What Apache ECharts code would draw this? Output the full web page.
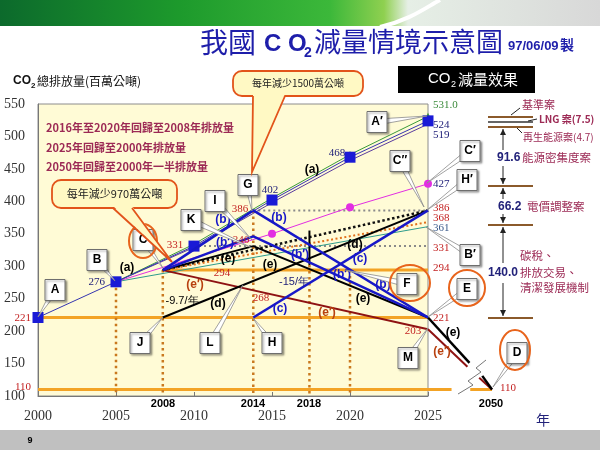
<!DOCTYPE html>
<html><head><meta charset="utf-8">
<script src="https://cdn.jsdelivr.net/npm/echarts@6.0.0/dist/echarts.min.js"></script>
<style>html,body{margin:0;padding:0;background:#fff}#c{width:600px;height:450px}</style>
</head><body><div id="c"></div>
<script>
// ---------------- data ----------------
const xTicks = [2000, 2005, 2010, 2015, 2020, 2025];
const yMin = 100, yMax = 550, yStep = 50;
const bauBlue   = [[2000,221],[2005,276],[2010,331],[2015,402],[2020,468],[2025,524]];
const bauGreen  = [[2005,276],[2010,334],[2015,405],[2020,472],[2025,531]];
const bauPurple = [[2005,276],[2010,329],[2015,398],[2020,463],[2025,519]];
const caseMagenta = [[2005,276],[2015,350],[2020,391],[2025,427]];
const caseTeal    = [[2005,276],[2025,361]];
const caseOrangeDot = [[2008,294],[2025,368]];
const caseBlackDot  = [[2008,294],[2025,386]];
const caseB  = [[2008,294],[2013.8,386],[2025,221]];
const caseB2 = [[2008,294],[2013.8,346],[2025,221]];
const caseC  = [[2013.8,221],[2025,386]];
const caseD  = [[2008,221],[2025,386]];
const caseE  = [[2008,294],[2013.8,331],[2025,221]];
const caseE2 = [[2008,294],[2025,203]];
const caseE_to2050a  = [[2025,221],[2041.2,151]];
const caseE_to2050b  = [[2046.2,131],[2050,110]];
const caseE2_to2050a = [[2025,203],[2040.4,145]];
const caseE2_to2050b = [[2045,128],[2050,110]];
const level294 = [[2008,294],[2025,294]];
const level221 = [[2000,221],[2025,221]];
const level110 = [[2000,110],[2025,110]];
const level110extA = [[2025,110],[2034.2,110]];
const level110extB = [[2041.5,110],[2050,110]];
const guide386 = [[2013.8,386],[2025,386]];
const guide331 = [[2010,331],[2025,331]];
const dropYears = [2005, 2008, 2013.8, 2017.4, 2020];
const dropTops  = [276, 294, 386, 302, 294];
const mark2018  = [[2017.4,355],[2017.4,302]];

// ---------------- styles ----------------
const ORANGE = '#f3a325', DROP = '#c9791f', BLUE = '#1818c8', DRED = '#8e1212';
const RED = '#c21f1f', NAVY = '#22227a', MAROON = '#9c2a55';
const CJK = '"Noto Sans CJK TC"';

function L(data, color, width, o) {
  o = o || {};
  const g = o.g || 0;
  return {
    type: 'line', data: data, xAxisIndex: g, yAxisIndex: g,
    symbol: o.symbol || 'none', symbolSize: o.size || 0, showSymbol: !!o.symbol,
    lineStyle: { color: color, width: width, type: o.type || 'solid' },
    itemStyle: { color: o.mcolor || color, borderWidth: 0 },
    z: o.z || 3, silent: true, clip: false, animation: false
  };
}
function withSym(data, skipFirst) {
  return data.map((d, i) => (skipFirst && i === 0) ? { value: d, symbol: 'none' } : d);
}

const series = [
  L(level294, ORANGE, 3, {z: 2}),
  L(level221, ORANGE, 3, {z: 2}),
  L(level110, ORANGE, 3, {z: 2}),
  L(level110extA, ORANGE, 3, {g: 1, z: 2}),
  L(level110extB, ORANGE, 3, {g: 1, z: 2}),
];
dropYears.forEach((yr, i) => series.push(L([[yr, dropTops[i]], [yr, yMin]], DROP, 2.5, {type: [2.5, 3.5], z: 2})));
series.push(
  L(guide386, '#8a8a8a', 2, {type: [2, 3], z: 2}),
  L(guide331, '#8a8a8a', 2, {type: [2, 3], z: 2}),
  L(caseBlackDot, '#111', 2.5, {type: [2.5, 2.5], z: 3}),
  L(caseOrangeDot, '#e0701c', 2, {type: [2, 2.5], z: 3}),
  L(caseTeal, '#2e9c8c', 1, {z: 3}),
  L(withSym(caseMagenta, true), '#e22ee2', 1, {symbol: 'circle', size: 8, z: 4}),
  L(bauPurple, '#5a3c9e', 1, {z: 4}),
  L(withSym(bauGreen, true), '#3b9a3b', 1, {symbol: 'triangle', size: 7, z: 4}),
  L(bauBlue, '#3535b0', 1, {symbol: 'rect', size: 11, mcolor: '#1a1ad6', z: 5}),
  L(mark2018, '#000', 2, {z: 5}),
  L(caseE2, DRED, 2, {z: 5}),
  L(caseE2_to2050a, DRED, 2, {g: 1, z: 5}),
  L(caseE2_to2050b, DRED, 2, {g: 1, z: 5}),
  L(caseD, '#000', 2, {z: 6}),
  L(caseE, '#000', 2, {z: 6}),
  L(caseE_to2050a, '#000', 2.5, {g: 1, z: 6}),
  L(caseE_to2050b, '#000', 2.5, {g: 1, z: 6}),
  L(caseB, BLUE, 2.5, {z: 7}),
  L(caseB2, BLUE, 2.5, {z: 7}),
  L(caseC, BLUE, 2.5, {z: 7})
);

// ---------------- graphic helpers ----------------
function T(x, y, text, font, fill, align, extra) {
  const el = { type: 'text', x: x, y: y, z: 100, silent: true,
    style: Object.assign({ text: text, font: font, fill: fill,
      align: align || 'left', textAlign: align || 'left',
      verticalAlign: 'middle', textVerticalAlign: 'middle' }, extra || {}) };
  return el;
}
function box(txt, cx, cy, tx, ty) {
  const dx = tx - cx, dy = ty - cy, len = Math.hypot(dx, dy);
  const px = -dy / len * 3, py = dx / len * 3;
  const w = 20, h = 21;
  return [
    { type: 'polygon', z: 110, silent: true, shape: { points: [[cx + px, cy + py], [cx - px, cy - py], [tx, ty]] },
      style: { fill: '#fff', stroke: '#8a8a8a', lineWidth: 0.8 } },
    { type: 'rect', z: 111, silent: true, shape: { x: cx - w / 2, y: cy - h / 2, width: w, height: h },
      style: { fill: '#fff', stroke: '#6e6e6e', lineWidth: 1, shadowBlur: 2, shadowOffsetX: 1.5, shadowOffsetY: 1.5, shadowColor: 'rgba(0,0,0,0.35)' } },
    Object.assign(T(cx, cy, txt, 'bold 12px "Liberation Sans"', '#000', 'center'), { z: 112 })
  ];
}
function ell(cx, cy, rx, ry) {
  return { type: 'ellipse', z: 115, silent: true, shape: { cx: cx, cy: cy, rx: rx, ry: ry },
    style: { fill: 'none', stroke: '#e8641c', lineWidth: 2 } };
}
function callout(x, y, w, h, bx1, bx2, tx, ty, text, font) {
  const fill = '#fff9c4', stroke = '#e2541a';
  return [
    { type: 'rect', z: 120, silent: true, shape: { x: x, y: y, width: w, height: h, r: 9 }, style: { fill: fill, stroke: stroke, lineWidth: 1.8 } },
    { type: 'polygon', z: 121, silent: true, shape: { points: [[bx1, y + h - 2], [bx2, y + h - 2], [tx, ty]] }, style: { fill: fill } },
    { type: 'polyline', z: 122, silent: true, shape: { points: [[bx1, y + h], [tx, ty], [bx2, y + h]] }, style: { fill: null, stroke: stroke, lineWidth: 1.8 } },
    Object.assign(T(x + w / 2, y + h / 2, text, font, '#222', 'center'), { z: 123 })
  ];
}
function ln(x1, y1, x2, y2, color, w) {
  return { type: 'line', z: 100, silent: true, shape: { x1: x1, y1: y1, x2: x2, y2: y2 }, style: { stroke: color, lineWidth: w || 1 } };
}
function arrowHead(x, y, dir, color) { // dir: 1 = pointing down, -1 = pointing up
  return { type: 'polygon', z: 101, silent: true, shape: { points: [[x - 3, y - 6 * dir], [x + 3, y - 6 * dir], [x, y]] }, style: { fill: color || '#222' } };
}

const G = [];
// banner + footer
G.push({ type: 'rect', z: 1, silent: true, shape: { x: 0, y: 0, width: 600, height: 26 },
  style: { fill: new echarts.graphic.LinearGradient(0, 0, 1, 0, [
    { offset: 0, color: '#0c6a2c' }, { offset: 0.3, color: '#1d9a2c' }, { offset: 0.55, color: '#3cb83a' },
    { offset: 0.64, color: '#8fd050' }, { offset: 0.68, color: '#e6efe6' }, { offset: 1, color: '#d8d8d8' }]) } });
G.push({ type: 'bezierCurve', z: 2, silent: true, shape: { x1: 380, y1: 27, x2: 440, y2: 0, cpx1: 410, cpy1: 20, cpx2: 425, cpy2: 8 },
  style: { stroke: '#ffffff', lineWidth: 4, fill: null } });
G.push({ type: 'rect', z: 1, silent: true, shape: { x: 0, y: 430, width: 600, height: 20 }, style: { fill: '#c0c0c0' } });
G.push(T(30, 441, '9', 'bold 9px "Liberation Sans"', '#000', 'center'));

// title
G.push(T(200, 42, '我國', '28px ' + CJK, '#1e1eaa'));
G.push(T(264, 44, 'C O', 'bold 24px "Liberation Sans"', '#1e1eaa'));
G.push(T(304, 53, '2', 'bold 14px "Liberation Sans"', '#1e1eaa'));
G.push(T(314, 42, '減量情境示意圖', '27px ' + CJK, '#1e1eaa'));
G.push(T(508, 46, '97/06/09', 'bold 13px "Liberation Sans"', '#1e1eaa'));
G.push(T(560, 45, '製', 'bold 14px ' + CJK, '#1e1eaa'));

// y-axis title
G.push(T(13, 81, 'CO', 'bold 12px "Liberation Sans"', '#111'));
G.push(T(31, 86, '2', 'bold 8px "Liberation Sans"', '#111'));
G.push(T(37, 81, '總排放量(百萬公噸)', '12px ' + CJK, '#111'));

// black box
G.push({ type: 'rect', z: 100, silent: true, shape: { x: 398, y: 66, width: 137, height: 27 }, style: { fill: '#000' } });
G.push(T(428, 79, 'CO', '15px "Liberation Sans"', '#fff'));
G.push(T(451, 85, '2', '9px "Liberation Sans"', '#fff'));
G.push(T(458, 79, '減量效果', '15px ' + CJK, '#fff'));

// red policy notes
G.push(T(46, 128, '2016年至2020年回歸至2008年排放量', 'bold 11px ' + CJK, MAROON));
G.push(T(46, 148, '2025年回歸至2000年排放量', 'bold 11px ' + CJK, MAROON));
G.push(T(46, 167, '2050年回歸至2000年一半排放量', 'bold 11px ' + CJK, MAROON));

// callouts
G.push.apply(G, callout(52, 180, 125, 28, 113, 132, 172, 262, '每年減少970萬公噸', '11px ' + CJK));
G.push.apply(G, callout(233, 71, 130, 25, 253, 285, 252, 172, '每年減少1500萬公噸', '10px ' + CJK));

// value labels
const SER = '11px "Liberation Serif"';
[[31,318,'221',RED,'right'],[31,387,'110',RED,'right'],[105,282,'276',NAVY,'right'],
 [175,245,'331',RED,'center'],[240,209,'386',RED,'center'],[241,240,'346',RED,'center'],
 [270,190,'402',NAVY,'center'],[337,153,'468',NAVY,'center'],[222,273,'294',RED,'center'],
 [261,298,'268',RED,'center'],[413,331,'203',RED,'center'],
 [433,105,'531.0','#3a8a3a','left'],[433,125,'524',NAVY,'left'],[433,135,'519',NAVY,'left'],
 [433,184,'427',NAVY,'left'],[433,208,'386',RED,'left'],[433,218,'368',RED,'left'],
 [433,228,'361','#3a5a8a','left'],[433,248,'331',RED,'left'],[433,268,'294',RED,'left'],
 [433,318,'221',RED,'left'],[500,388,'110',RED,'left']
].forEach(a => G.push(T(a[0], a[1], a[2], SER, a[3], a[4])));

// line labels
const LB = 'bold 12px "Liberation Sans"';
[[127,268,'(a)','#000'],[312,170,'(a)','#000'],
 [223,220,'(b)',BLUE],[279,218,'(b)',BLUE],[383,285,'(b)',BLUE],
 [225,243,'(b′)',BLUE],[300,255,'(b′)',BLUE],[342,275,'(b′)',BLUE],
 [360,259,'(c)',BLUE],[280,309,'(c)',BLUE],
 [355,245,'(d)','#000'],[218,304,'(d)','#000'],
 [228,259,'(e)','#000'],[270,265,'(e)','#000'],[363,299,'(e)','#000'],[453,333,'(e)','#000'],
 [195,285,'(e′)','#b8400e'],[327,313,'(e′)','#b8400e'],[442,352,'(e′)','#b8400e']
].forEach(a => G.push(T(a[0], a[1], a[2], LB, a[3], 'center')));
G.push(T(182, 301, '-9.7/年', '11px "Liberation Sans"', '#000', 'center'));
G.push(T(294, 282, '-15/年', '11px "Liberation Sans"', NAVY, 'center'));

// special year labels under axis
[[163,'2008'],[253,'2014'],[309,'2018'],[491,'2050']].forEach(a => G.push(T(a[0], 404, a[1], 'bold 11px "Liberation Sans"', '#000', 'center')));
G.push(T(543, 420, '年', '14px ' + CJK, '#22227a', 'center'));

// axis break zigzag
G.push({ type: 'polyline', z: 100, silent: true, shape: { points: [[486,360],[476,368],[481,372],[468,381],[473,385],[458,394]] },
  style: { stroke: '#777', lineWidth: 1, fill: null } });

// circles
G.push(ell(143, 241, 14, 17), ell(410, 283, 20, 18), ell(467, 288, 18, 18), ell(515, 350, 15, 20));

// label boxes
[['A',55,290,38,317],['B',97,260,115,281],['C',143,240,163,268],['K',191,220,252,248],
 ['I',215,201,252,240],['G',248,185,252,211],['A′',377,122,427,116],['C″',400,161,424,207],
 ['C′',470,151,427,183],['H′',467,180,427,210],['B′',470,255,426,227],['F',407,284,345,270],
 ['E',467,289,428,317],['D',517,353,493,387],['J',140,343,163,317],['L',210,343,243,285],
 ['H',272,343,253,318],['M',408,358,428,328]
].forEach(a => G.push.apply(G, box(a[0], a[1], a[2], a[3], a[4])));

// right panel
const BR = '#8b5a2b';
G.push(ln(488, 117, 533, 117, BR, 2), ln(488, 122, 533, 122, '#333', 1.5), ln(488, 127, 533, 127, BR, 2));
G.push(ln(488, 186, 533, 186, BR, 2), ln(488, 225, 533, 225, BR, 2), ln(488, 318, 533, 318, BR, 2));
G.push(ln(503, 129, 503, 150, '#222', 1), arrowHead(503, 129, -1));
G.push(ln(503, 166, 503, 184, '#222', 1), arrowHead(503, 184, 1));
G.push(ln(503, 188, 503, 199, '#222', 1), arrowHead(503, 188, -1));
G.push(ln(503, 214, 503, 223, '#222', 1), arrowHead(503, 223, 1));
G.push(ln(503, 227, 503, 263, '#222', 1), arrowHead(503, 227, -1));
G.push(ln(503, 283, 503, 316, '#222', 1), arrowHead(503, 316, 1));
G.push(T(522, 105, '基準案', '11px ' + CJK, MAROON));
G.push(ln(520, 108, 511, 115, '#222', 1));
G.push(T(539, 119, 'LNG 案(7.5)', 'bold 10px ' + CJK, MAROON));
G.push(ln(537, 119, 528, 121, '#222', 1));
G.push(T(523, 137, '再生能源案(4.7)', '10px ' + CJK, MAROON));
G.push(ln(522, 133, 517, 128, '#222', 1));
G.push(T(497, 158, '91.6', 'bold 12px "Liberation Sans"', NAVY));
G.push(T(522, 158, '能源密集度案', '11.5px ' + CJK, MAROON));
G.push(T(498, 207, '66.2', 'bold 12px "Liberation Sans"', NAVY));
G.push(T(527, 207, '電價調整案', '11.5px ' + CJK, MAROON));
G.push(T(488, 273, '140.0', 'bold 12px "Liberation Sans"', NAVY));
G.push(T(520, 256, '碳稅、', '11.5px ' + CJK, MAROON));
G.push(T(520, 273, '排放交易、', '11.5px ' + CJK, MAROON));
G.push(T(520, 288, '清潔發展機制', '11.5px ' + CJK, MAROON));

const chart = echarts.init(document.getElementById('c'), null, { renderer: 'canvas' });
chart.setOption({
  animation: false,
  backgroundColor: '#ffffff',
  grid: [
    { left: 38, top: 104, width: 390, height: 292, show: true, backgroundColor: '#fffbd6', borderColor: '#8c8c8c', borderWidth: 1 },
    { left: 428, top: 104, width: 64, height: 292, show: false }
  ],
  xAxis: [
    { type: 'value', gridIndex: 0, min: xTicks[0], max: xTicks[xTicks.length - 1], interval: 5,
      axisLine: { lineStyle: { color: '#777' } }, axisTick: { inside: true, length: 4, lineStyle: { color: '#777' } },
      splitLine: { show: false },
      axisLabel: { margin: 13, fontFamily: 'Liberation Serif', fontSize: 14, color: '#333', formatter: v => String(v) } },
    { type: 'value', gridIndex: 1, min: 2025, max: 2050, show: false }
  ],
  yAxis: [
    { type: 'value', gridIndex: 0, min: yMin, max: yMax, interval: yStep,
      axisLine: { show: true, lineStyle: { color: '#777' } }, axisTick: { show: false }, splitLine: { show: false },
      axisLabel: { margin: 13, fontFamily: 'Liberation Serif', fontSize: 14, color: '#333' } },
    { type: 'value', gridIndex: 1, min: yMin, max: yMax, show: false }
  ],
  series: series,
  graphic: { elements: G }
});
</script></body></html>
